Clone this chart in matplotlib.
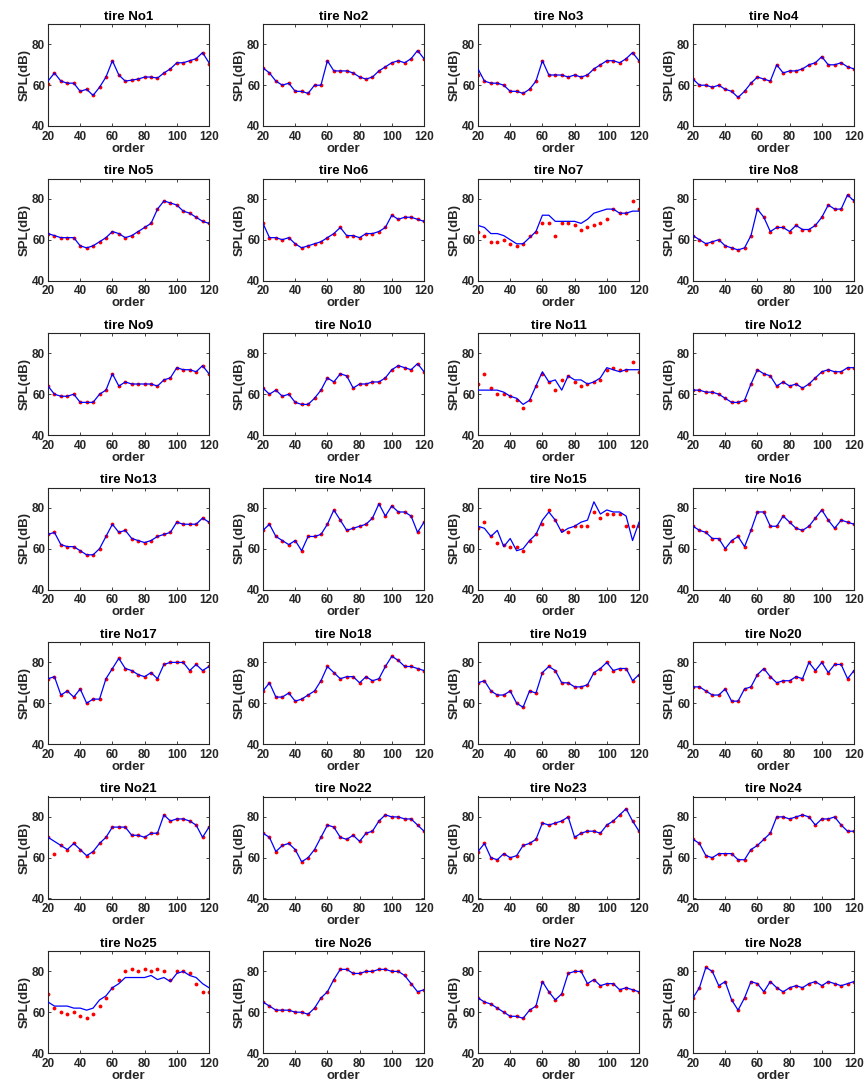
import numpy as np
import matplotlib
matplotlib.use("Agg")
import matplotlib.pyplot as plt

plt.rcParams['font.family'] = ['Liberation Sans', 'DejaVu Sans']

# orders sampled every 4
order = list(range(20, 121, 4))

# predicted SPL (blue line), one list per tire
pred = {
    1: [62, 66, 62, 61, 61, 57, 58, 55, 59, 64, 72, 65, 62, 62.5, 63, 64, 64, 63.5, 66, 68, 71, 71, 72, 73, 76, 71],
    2: [68.5, 66, 62, 60, 61, 57, 57, 56, 60, 60, 72, 67, 67, 67, 66, 64, 63, 64, 67, 69, 71, 72, 71, 73, 77, 73],
    3: [68, 62, 61, 61, 60, 57, 57, 56, 58, 62, 72, 65, 65, 65, 64, 65, 64, 65, 68, 70, 72, 72, 71, 73, 76, 72],
    4: [63, 60, 60, 59, 60, 58, 57, 54, 57, 61, 64, 63, 62, 70, 66, 67, 67, 68, 70, 71, 74, 70, 70, 71, 69, 68],
    5: [63, 62, 61, 61, 61, 57, 56, 57, 59, 61, 64, 63, 61, 62, 64, 66, 68, 75, 79, 78, 77, 74, 73, 71, 69, 68],
    6: [68, 61, 61, 60, 61, 58, 56, 57, 58, 59, 61, 63, 66, 62, 62, 61, 63, 63, 64, 66, 72, 70, 71, 71, 70, 69],
    7: [67, 66, 63, 63, 62, 60, 58, 58, 61, 64, 72, 72, 69, 69, 69, 69, 68, 70, 73, 74, 75, 75, 73, 73, 74, 74],
    8: [62, 60, 58, 59, 60, 57, 56, 55, 56, 62, 75, 71, 64, 66, 66, 64, 67, 65, 65, 67, 71, 77, 75, 75, 82, 79],
    9: [64, 60, 59, 59, 60, 56, 56, 56, 60, 62, 70, 64, 66, 65, 65, 65, 65, 64, 67, 68, 73, 72, 72, 71, 74, 70],
    10: [63, 60, 62, 59, 60, 56, 55, 55, 58, 62, 68, 66, 70, 69, 63, 65, 65, 66, 66, 68, 72, 74, 73, 72, 75, 71],
    11: [62, 62, 62, 62, 61, 59, 58, 55, 57, 64, 71, 66, 67, 62, 69, 67, 67, 65, 66, 68, 73, 72, 71, 72, 72, 72],
    12: [62, 62, 61, 61, 60, 58, 56, 56, 57, 65, 72, 70, 69, 64, 66, 64, 65, 63, 65, 68, 71, 72, 71, 71, 73, 73],
    13: [67, 68, 62, 61, 61, 59, 57, 57, 60, 66, 72, 68, 69, 65, 64, 63, 64, 66, 67, 68, 73, 72, 72, 72, 75, 73],
    14: [69, 72, 66, 64, 62, 64, 59, 66, 66, 67, 72, 79, 74, 69, 70, 71, 72, 75, 82, 76, 81, 78, 78, 76, 68, 73],
    15: [71, 70, 66, 69, 61, 65, 59, 60, 64, 67, 74, 78, 74, 68, 70, 71, 73, 74, 83, 77, 79, 78, 78, 76, 64, 73],
    16: [71, 69, 68, 65, 65, 60, 64, 66, 61, 69, 78, 78, 71, 71, 76, 73, 70, 69, 71, 75, 79, 74, 70, 74, 73, 72],
    17: [72, 73, 64, 66, 63, 67, 60, 62, 62, 72, 77, 82, 77, 76, 74, 73, 75, 72, 79, 80, 80, 80, 76, 79, 76, 78],
    18: [66, 70, 63, 63, 65, 61, 62, 64, 66, 71, 78, 75, 72, 73, 73, 70, 73, 71, 72, 78, 83, 81, 78, 78, 77, 76],
    19: [70, 71, 66, 64, 64, 66, 60, 58, 66, 65, 75, 78, 76, 70, 70, 68, 68, 69, 75, 77, 80, 76, 77, 77, 71, 74],
    20: [68, 68, 66, 64, 64, 67, 61, 61, 67, 68, 74, 77, 73, 70, 71, 71, 73, 72, 80, 76, 80, 75, 79, 79, 72, 76],
    21: [70, 68, 66, 64, 67, 64, 61, 63, 67, 70, 75, 75, 75, 71, 71, 70, 72, 72, 81, 78, 79, 79, 78, 76, 70, 75],
    22: [72, 70, 63, 66, 67, 64, 58, 60, 64, 70, 76, 75, 70, 69, 71, 68, 72, 73, 78, 81, 80, 80, 79, 79, 76, 73],
    23: [63, 67, 60, 59, 62, 60, 61, 66, 67, 69, 77, 76, 77, 78, 80, 70, 72, 73, 73, 72, 76, 78, 81, 84, 78, 73],
    24: [69, 67, 61, 60, 62, 62, 62, 59, 59, 64, 66, 69, 72, 80, 80, 79, 80, 81, 80, 76, 79, 79, 80, 76, 73, 73],
    25: [65, 63, 63, 63, 62, 62, 61, 62, 66, 68, 72, 74, 77, 77, 77, 77, 78, 76, 77, 75, 79, 80, 78, 77, 74, 72],
    26: [65, 63, 61, 61, 61, 60, 60, 59, 62, 67, 70, 76, 81, 81, 79, 79, 80, 80, 81, 81, 80, 80, 78, 74, 70, 71],
    27: [67, 65, 64, 62, 60, 58, 58, 57, 61, 63, 75, 70, 66, 69, 79, 80, 80, 74, 76, 73, 74, 74, 71, 72, 71, 70],
    28: [67, 72, 82, 80, 73, 75, 66, 61, 67, 75, 74, 70, 75, 72, 70, 72, 73, 72, 74, 75, 73, 75, 74, 73, 74, 75],
}

# measured SPL (red dots); tires not listed here match the prediction
meas = {
    1: [60.5, 66, 62, 61, 61, 57, 58, 55, 59, 64, 72, 65, 62, 62.5, 63, 64, 64, 63.5, 66, 68, 71, 71, 72, 73, 76, 70.5],
    3: [65, 62, 61, 61, 60, 57, 57, 56, 58, 62, 72, 65, 65, 65, 64, 65, 64, 65, 68, 70, 72, 72, 71, 73, 76, 72],
    7: [64, 62, 59, 59, 60, 58, 57, 58, 62, 64, 68, 68, 62, 68, 68, 67, 65, 66, 67, 68, 70, 75, 73, 73, 79, 75],
    11: [65, 70, 63, 60, 60, 59, 57, 53, 57, 64, 70, 66, 62, 67, 69, 66, 64, 65, 66, 67, 72, 73, 72, 72, 76, 71],
    15: [70, 73, 66, 63, 62, 61, 61, 59, 64, 67, 72, 79, 74, 69, 68, 71, 71, 71, 78, 75, 77, 77, 77, 71, 71, 71],
    21: [70, 62, 66, 64, 67, 64, 61, 63, 67, 70, 75, 75, 75, 71, 71, 70, 72, 72, 81, 78, 79, 79, 78, 76, 70, 75],
    25: [69, 62, 60, 59, 60, 58, 57, 59, 63, 67, 72, 76, 80, 81, 80, 81, 80, 81, 80, 76, 80, 80, 79, 74, 70, 70],
}

xticks = [20, 40, 60, 80, 100, 120]
yticks = [40, 60, 80]

W, H = 865, 1084
fig = plt.figure(figsize=(W / 100, H / 100), dpi=100)

lefts = [48, 263, 478, 693]
txt = '#262626'
for k in range(1, 29):
    r, c = (k - 1) // 4, (k - 1) % 4
    top = 24 + r * 154.5
    ax = fig.add_axes([lefts[c] / W, 1 - (top + 102) / H, 161 / W, 102 / H])
    ax.plot(order, meas.get(k, pred[k]), '.', color='red', ms=3.5, zorder=2)
    ax.plot(order, pred[k], '-', color='blue', lw=0.9, zorder=3)
    ax.set_xlim(20, 120)
    ax.set_ylim(40, 90)
    ax.set_xticks(xticks)
    ax.set_yticks(yticks)
    ax.tick_params(direction='in', top=True, right=True, length=2.5, width=0.6,
                   labelsize=8.5, colors=txt, pad=2)
    ax.tick_params(axis='x', pad=3.5)
    for lab in ax.get_xticklabels() + ax.get_yticklabels():
        lab.set_fontweight('bold')
    for s in ax.spines.values():
        s.set_color(txt)
        s.set_linewidth(0.8)
    ax.set_title('tire No%d' % k, fontsize=9.5, fontweight='bold', pad=3)
    ax.set_xlabel('order', fontsize=9.5, fontweight='bold', color=txt, labelpad=0)
    ax.set_ylabel('SPL(dB)', fontsize=9.5, fontweight='bold', color=txt, labelpad=1)

plt.savefig('out.png', dpi=100)
